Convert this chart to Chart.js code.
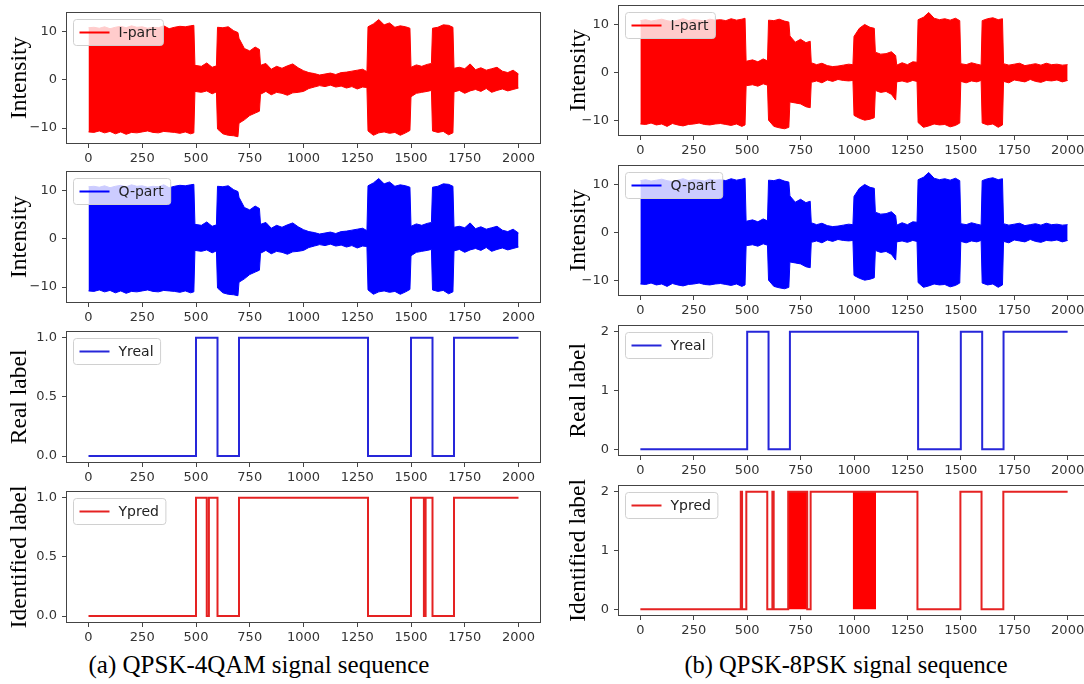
<!DOCTYPE html>
<html><head><meta charset="utf-8">
<script src="https://cdn.jsdelivr.net/npm/chart.js@4.4.0/dist/chart.umd.min.js"></script>
<style>
html,body{margin:0;padding:0;background:#fff;width:1084px;height:684px;overflow:hidden;position:relative;}
canvas{position:absolute;}
.cap{position:absolute;font-family:'Liberation Serif','Times New Roman',serif;font-size:24.5px;line-height:30px;color:#000;white-space:nowrap;transform:translateX(-50%);}
</style></head><body>
<div class="cap" style="left:259px;top:650px;font-size:25px">(a) QPSK-4QAM signal sequence</div>
<div class="cap" style="left:846px;top:650px">(b) QPSK-8PSK signal sequence</div>
<script>
// ---------- tick values / labels ----------
const xTicks = [0,250,500,750,1000,1250,1500,1750,2000];
const signalYTicks = [-10,0,10];
const signalYLabels = ['\u221210','0','10'];
const labelYTicksA = [0,0.5,1];
const labelYLabelsA = ['0.0','0.5','1.0'];
const labelYTicksB = [0,1,2];
const labelYLabelsB = ['0','1','2'];

// ---------- (a) QPSK-4QAM : signal envelope ----------
const sampleXA = [0,25,50,75,100,125,150,175,200,225,250,275,300,325,350,375,400,425,450,475,490,
  495,525,550,575,595, 600,625,650,675,695, 700,725,750,775,795,
  800,825,850,875,900,925,950,975,1000,1025,1050,1075,1100,1125,1150,1175,1200,1225,1250,1275,1295,
  1300,1325,1350,1375,1400,1425,1450,1475,1495, 1500,1525,1550,1575,1595, 1600,1625,1650,1675,1695,
  1700,1725,1750,1775,1800,1825,1850,1875,1900,1925,1950,1975,2000];
const iUpperA = [10.8,10.9,10.7,11.0,10.6,10.9,11.1,10.8,11.2,10.9,11.0,10.7,10.9,10.8,11.2,10.6,10.9,11.1,11.0,11.2,11.3,
  3.0,2.8,3.5,2.6,2.9, 10.9,10.8,11.0,10.2,9.8, 8.6,6.5,6.0,6.8,6.3,
  3.0,3.4,2.2,2.8,2.4,2.9,3.3,2.5,1.9,1.5,1.3,1.0,1.2,1.4,1.1,1.5,1.6,1.8,2.0,2.2,1.7,
  11.0,11.6,12.5,11.4,11.8,10.9,11.2,11.0,10.7, 2.6,3.1,2.8,3.2,3.4, 10.7,10.9,11.4,11.3,10.9,
  2.4,2.6,2.3,3.3,2.1,2.5,2.0,2.3,2.6,1.8,1.5,2.0,1.2];
const iLowerA = [-10.8,-10.9,-10.6,-11.0,-10.7,-11.2,-10.8,-11.3,-10.9,-11.0,-10.8,-10.6,-10.9,-11.0,-10.7,-10.8,-10.9,-11.1,-10.8,-11.2,-11.0,
  -2.4,-2.6,-2.3,-2.9,-2.5, -10.2,-11.2,-11.5,-11.6,-11.8, -9.0,-8.3,-7.4,-6.9,-6.5,
  -3.0,-2.4,-3.1,-2.6,-2.8,-3.2,-2.7,-2.6,-2.4,-1.8,-1.5,-1.2,-1.4,-1.1,-1.5,-1.3,-1.7,-1.4,-1.9,-1.5,-1.6,
  -10.6,-11.5,-11.0,-10.8,-11.1,-10.9,-11.5,-11.0,-10.5, -3.5,-2.8,-2.6,-2.4,-2.2, -10.6,-10.9,-10.7,-11.4,-11.0,
  -2.5,-2.2,-2.8,-2.3,-2.0,-2.4,-1.8,-2.6,-2.2,-1.9,-2.3,-2.0,-1.7];
// Q-part trace reads the same as the I-part trace in the figure
const qUpperA = iUpperA.slice();
const qLowerA = iLowerA.slice();

// ---------- (b) QPSK-8PSK : signal envelope ----------
const sampleXB = [0,25,50,75,100,125,150,175,200,225,250,275,300,325,350,375,400,425,450,475,490,
  495,525,550,575,595, 600,625,650,675,695, 700,725,750,775,795,
  800,825,850,875,900,925,950,975,995, 1000,1025,1050,1075,1095, 1100,1125,1150,1175,1195, 1200,1225,1250,1275,1295,
  1300,1325,1350,1375,1400,1425,1450,1475,1495, 1500,1525,1550,1575,1595, 1600,1625,1650,1675,1695,
  1700,1725,1750,1775,1800,1825,1850,1875,1900,1925,1950,1975,2000];
const iUpperB = [10.8,11.0,10.7,10.9,11.1,10.8,10.6,10.9,11.2,10.8,11.0,10.9,10.7,11.1,10.9,11.0,10.8,11.2,10.9,11.1,11.3,
  2.3,2.6,2.2,2.8,2.4, 10.9,10.8,11.1,10.7,10.5, 7.6,6.3,6.9,6.2,6.5,
  2.0,1.6,1.9,1.4,1.2,1.3,1.5,1.7,1.6, 7.5,9.2,10.0,9.4,9.2, 4.2,3.8,3.9,4.3,3.5, 1.5,2.0,1.6,2.2,2.1,
  11.0,11.5,12.5,11.3,11.0,11.2,10.9,11.3,10.8, 1.8,1.6,2.0,1.7,1.5, 10.8,11.2,11.4,11.0,11.2,
  1.8,1.5,1.7,1.9,1.4,1.6,1.8,1.5,1.9,1.6,1.7,1.5,1.6];
const iLowerB = [-10.8,-10.9,-10.6,-11.0,-10.8,-11.3,-10.7,-11.0,-11.2,-10.9,-10.8,-10.6,-10.9,-11.0,-10.8,-10.7,-10.9,-11.1,-10.8,-11.3,-11.0,
  -2.8,-2.6,-2.9,-2.4,-2.7, -10.0,-11.3,-11.6,-11.8,-11.5, -6.2,-6.4,-6.6,-7.2,-7.4,
  -2.1,-1.8,-2.2,-1.6,-1.9,-1.5,-1.7,-1.8,-1.7, -9.0,-9.6,-10.0,-9.8,-9.5, -3.8,-4.2,-4.0,-4.6,-5.8, -2.0,-1.8,-2.1,-1.7,-1.9,
  -10.5,-11.5,-11.2,-10.8,-11.0,-10.9,-11.4,-11.1,-10.6, -1.9,-2.2,-1.8,-2.0,-1.7, -10.6,-11.0,-10.8,-11.5,-11.0,
  -1.9,-2.2,-1.6,-1.8,-2.0,-1.5,-1.9,-2.1,-1.7,-1.8,-1.6,-2.0,-1.7];
const qUpperB = iUpperB.slice();
const qLowerB = iLowerB.slice();

// ---------- labels (value holds from each change point to the next) ----------
const realChangeX = [0,500,600,700,1300,1500,1600,1700,2000];
const realA = [0,1,0,1,0,1,0,1,1];
const realB = [0,2,0,2,0,2,0,2,2];
const predChangeXA = [0,500,550,560,600,700,1300,1500,1560,1568,1600,1700,2000];
const predA = [0,1,0,1,0,1,0,1,0,1,0,1,1];
const predChangeXB = [0,470,476,496,594,618,624,692,781,797,1297,1498,1597,1699,2000];
const predB = [0,2,0,2,0,2,0,2,0,2,0,2,0,2,2];
// ranges where Ypred (b) toggles 0/2 so densely that it reads as a solid block
const denseStartB = [692, 994];
const denseEndB = [781, 1103];

// ---------- helpers ----------
const RED = '#ff0000', BLUE = '#0000ff';
const LRED = '#e52222', LBLUE = '#2626d9';
const pts = (xs, ys) => xs.map((x, i) => ({x: x, y: ys[i]}));

function envelope(xs, up, lo, col) {
  return [
    {data: pts(xs, up), borderColor: col, borderWidth: 1, pointRadius: 0, fill: false, tension: 0},
    {data: pts(xs, lo), borderColor: col, borderWidth: 1, pointRadius: 0, fill: '-1', backgroundColor: col, tension: 0}
  ];
}
function stepLine(xs, ys, col) {
  return {data: pts(xs, ys), borderColor: col, borderWidth: 2, pointRadius: 0, fill: false, stepped: 'before'};
}

const boxLegend = {
  id: 'boxLegend',
  afterDatasetsDraw(chart) {
    const o = chart.options.plugins.boxLegend;
    const {ctx, chartArea: a} = chart;
    ctx.save();
    ctx.font = '14px "DejaVu Sans"';
    const tw = ctx.measureText(o.text).width;
    const x = Math.round(a.left) + 6.5, y = Math.round(a.top) + 6.5, w = 45 + tw + 7, h = 26, r = 3;
    ctx.beginPath();
    ctx.moveTo(x + r, y); ctx.lineTo(x + w - r, y); ctx.arcTo(x + w, y, x + w, y + r, r);
    ctx.lineTo(x + w, y + h - r); ctx.arcTo(x + w, y + h, x + w - r, y + h, r);
    ctx.lineTo(x + r, y + h); ctx.arcTo(x, y + h, x, y + h - r, r);
    ctx.lineTo(x, y + r); ctx.arcTo(x, y, x + r, y, r); ctx.closePath();
    ctx.fillStyle = 'rgba(255,255,255,0.8)'; ctx.fill();
    ctx.strokeStyle = '#d0d0d0'; ctx.lineWidth = 1; ctx.stroke();
    ctx.beginPath(); ctx.moveTo(x + 6, y + h / 2); ctx.lineTo(x + 36, y + h / 2);
    ctx.strokeStyle = o.color; ctx.lineWidth = 2; ctx.stroke();
    ctx.fillStyle = '#222'; ctx.textBaseline = 'middle'; ctx.textAlign = 'left';
    ctx.fillText(o.text, x + 45, y + h / 2 + 0.5);
    ctx.restore();
  }
};
const frame = {
  id: 'frame',
  afterDraw(chart) {
    const {ctx, chartArea: a} = chart;
    ctx.save();
    ctx.strokeStyle = '#444'; ctx.lineWidth = 1;
    const l = Math.round(a.left) - 0.5, t = Math.round(a.top) - 0.5;
    const rr = Math.round(a.right) + 0.5, b = Math.round(a.bottom) + 0.5;
    ctx.strokeRect(l, t, rr - l, b - t);
    ctx.restore();
  }
};

function panel(o) {
  const padT = 10, padR = 10, xH = 30;
  const W = o.yW + o.w + padR, H = padT + o.h + xH;
  const c = document.createElement('canvas');
  c.width = W; c.height = H;
  c.style.left = (o.x - o.yW) + 'px'; c.style.top = (o.y - padT) + 'px';
  c.style.width = W + 'px'; c.style.height = H + 'px';
  document.body.appendChild(c);
  const tickFont = {family: 'DejaVu Sans', size: 13};
  new Chart(c, {
    type: 'line',
    data: {datasets: o.datasets},
    options: {
      responsive: false, animation: false, devicePixelRatio: 1, events: [],
      layout: {padding: {top: padT, right: padR, left: 0, bottom: 0}},
      plugins: {legend: {display: false}, tooltip: {enabled: false}, boxLegend: {text: o.legend, color: o.lcolor}},
      scales: {
        x: {
          type: 'linear', min: -100, max: 2100,
          afterBuildTicks: s => { s.ticks = xTicks.map(v => ({value: v})); },
          afterFit: s => { s.height = xH; },
          ticks: {autoSkip: false, maxRotation: 0, padding: 3, color: '#333', font: tickFont,
                  callback: (v, i) => String(xTicks[i])},
          grid: {display: true, drawOnChartArea: false, drawTicks: true, tickLength: 5, color: '#444'},
          border: {display: false}
        },
        y: {
          type: 'linear', min: o.ymin, max: o.ymax,
          afterBuildTicks: s => { s.ticks = o.yticks.map(v => ({value: v})); },
          afterFit: s => { s.width = o.yW; },
          ticks: {autoSkip: false, padding: 5, color: '#333', font: tickFont,
                  callback: (v, i) => o.ylabels[i]},
          grid: {display: true, drawOnChartArea: false, drawTicks: true, tickLength: 5, color: '#444'},
          border: {display: false},
          title: {display: true, text: o.title, color: '#000',
                  font: {family: 'Liberation Serif', size: 23.5}, padding: {top: o.tPad, bottom: 0}}
        }
      }
    },
    plugins: [boxLegend, frame]
  });
}

const L = {x: 67, w: 473, yW: 67, tPad: 6};
const R = {x: 619, w: 470, yW: 61, tPad: 7};
const sig = {ymin: -13.1, ymax: 13.9, yticks: signalYTicks, ylabels: signalYLabels, title: 'Intensity'};

// (a) column
panel(Object.assign({}, L, sig, {y: 10, h: 133, legend: 'I-part', lcolor: RED,
  datasets: envelope(sampleXA, iUpperA, iLowerA, RED)}));
panel(Object.assign({}, L, sig, {y: 169, h: 133, legend: 'Q-part', lcolor: BLUE,
  datasets: envelope(sampleXA, qUpperA, qLowerA, BLUE)}));
panel(Object.assign({}, L, {y: 329, h: 133, ymin: -0.05, ymax: 1.05, yticks: labelYTicksA, ylabels: labelYLabelsA,
  title: 'Real label', legend: 'Yreal', lcolor: LBLUE, datasets: [stepLine(realChangeX, realA, LBLUE)]}));
panel(Object.assign({}, L, {y: 489, h: 133, ymin: -0.05, ymax: 1.05, yticks: labelYTicksA, ylabels: labelYLabelsA,
  title: 'Identified label', legend: 'Ypred', lcolor: LRED, datasets: [stepLine(predChangeXA, predA, LRED)]}));

// (b) column
panel(Object.assign({}, R, sig, {y: 3, h: 132, legend: 'I-part', lcolor: RED,
  datasets: envelope(sampleXB, iUpperB, iLowerB, RED)}));
panel(Object.assign({}, R, sig, {y: 163, h: 132, legend: 'Q-part', lcolor: BLUE,
  datasets: envelope(sampleXB, qUpperB, qLowerB, BLUE)}));
panel(Object.assign({}, R, {y: 323, h: 132, ymin: -0.1, ymax: 2.1, yticks: labelYTicksB, ylabels: labelYLabelsB,
  title: 'Real label', legend: 'Yreal', lcolor: LBLUE, datasets: [stepLine(realChangeX, realB, LBLUE)]}));
const denseSets = denseStartB.map((s, i) => ({data: [{x: s, y: 2}, {x: denseEndB[i], y: 2}],
  borderColor: LRED, borderWidth: 1, pointRadius: 0, fill: {value: 0}, backgroundColor: RED}));
panel(Object.assign({}, R, {y: 483, h: 132, ymin: -0.1, ymax: 2.1, yticks: labelYTicksB, ylabels: labelYLabelsB,
  title: 'Identified label', legend: 'Ypred', lcolor: LRED,
  datasets: [stepLine(predChangeXB, predB, LRED)].concat(denseSets)}));
</script>
</body></html>
